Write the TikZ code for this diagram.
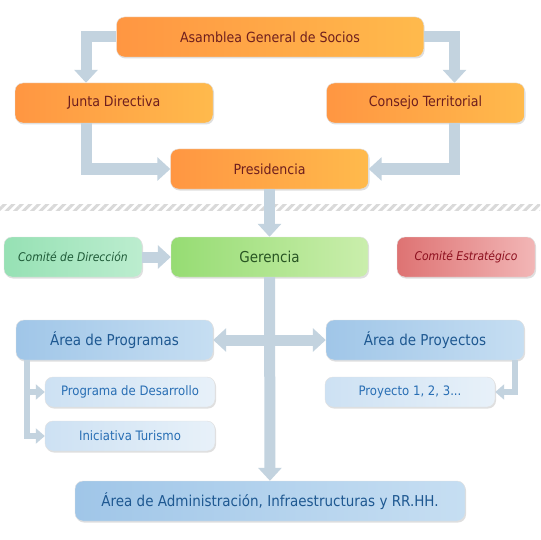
\documentclass[tikz,border=0pt]{standalone}
\usepackage{fontspec}
\setmainfont{DejaVu Sans Condensed}
\usetikzlibrary{arrows.meta, positioning, shadows, patterns.meta}
\definecolor{orgA}{RGB}{255,150,66}
\definecolor{orgB}{RGB}{255,186,76}
\definecolor{orgtxt}{RGB}{110,30,30}
\definecolor{mintA}{RGB}{150,225,180}
\definecolor{mintB}{RGB}{188,237,207}
\definecolor{minttxt}{RGB}{30,90,55}
\definecolor{grnA}{RGB}{150,220,115}
\definecolor{grnB}{RGB}{202,238,172}
\definecolor{grntxt}{RGB}{40,85,35}
\definecolor{redA}{RGB}{222,115,115}
\definecolor{redB}{RGB}{242,182,182}
\definecolor{redtxt}{RGB}{140,15,30}
\definecolor{bluA}{RGB}{160,198,232}
\definecolor{bluB}{RGB}{198,222,242}
\definecolor{blutxt}{RGB}{30,88,145}
\definecolor{lbluA}{RGB}{205,225,243}
\definecolor{lbluB}{RGB}{232,241,249}
\definecolor{lblutxt}{RGB}{40,110,180}
\definecolor{connc}{RGB}{195,211,223}

\begin{document}
\begin{tikzpicture}[
  x=1pt, y=-1pt,
  every node/.style={rounded corners=8pt, inner sep=0pt, draw=black!12,
    drop shadow={shadow xshift=1pt, shadow yshift=-1.5pt, opacity=0.25}},
  orgbox/.style={minimum width=198pt, minimum height=40pt, left color=orgA, right color=orgB,
    text=orgtxt, font=\fontsize{14}{16}\selectfont},
  mintbox/.style={minimum width=138pt, minimum height=40pt, left color=mintA, right color=mintB,
    text=minttxt, font=\fontsize{12}{14}\selectfont\itshape},
  grnbox/.style={minimum width=197pt, minimum height=40pt, left color=grnA, right color=grnB,
    text=grntxt, font=\fontsize{15}{17}\selectfont},
  redbox/.style={minimum width=138pt, minimum height=40pt, left color=redA, right color=redB,
    text=redtxt, font=\fontsize{12}{14}\selectfont\itshape},
  blubox/.style={minimum width=197pt, minimum height=40pt, left color=bluA, right color=bluB,
    text=blutxt, font=\fontsize{15}{17}\selectfont},
  lblubox/.style={minimum width=170pt, minimum height=30pt, left color=lbluA, right color=lbluB,
    text=lblutxt, font=\fontsize{13}{15}\selectfont},
  bigarr/.style={-{Triangle[length=13pt, width=23pt]}, line width=11pt, connc},
  smallarr/.style={-{Triangle[length=9pt, width=15pt]}, line width=5.5pt, connc}
]
  \fill[white] (0,0) rectangle (540,540);
  \useasboundingbox (0,0) rectangle (540,540);

  % top level
  \node[orgbox, minimum width=307pt] (asam) at (270,37) {Asamblea General de Socios};
  \node[orgbox] (junta) at (114,103) {Junta Directiva};
  \node[orgbox] (cons) at (425.5,103) {Consejo Territorial};
  \node[orgbox] (pres) at (269.5,169) {Presidencia};

  % separator
  \fill[pattern={Lines[angle=45, distance=6pt, line width=3pt]}, pattern color=black!15]
    (0,204) rectangle (540,210);

  % management
  \node[mintbox] (cdir) at (73,257) {Comité de Dirección};
  \node[grnbox] (ger) at (269.5,257) {Gerencia};
  \node[redbox] (cest) at (466,257) {Comité Estratégico};

  % areas
  \node[blubox] (aprog) at (114.5,340) {Área de Programas};
  \node[blubox, minimum width=198pt] (aproy) at (425,340) {Área de Proyectos};
  \node[lblubox] (pdes) at (130,392) {Programa de Desarrollo};
  \node[lblubox] (inic) at (130,436) {Iniciativa Turismo};
  \node[lblubox] (p123) at (410,392) {Proyecto 1, 2, 3...};
  \node[blubox, minimum width=390pt] (admin) at (270,501) {Área de Administración, Infraestructuras y RR.HH.};

  % connectors
  \draw[bigarr] (asam.west) -| ([xshift=-28pt]junta.north);
  \draw[bigarr] (asam.east) -| ([xshift=29pt]cons.north);
  \draw[bigarr] ([xshift=-28pt]junta.south) |- (pres.west);
  \draw[bigarr] ([xshift=29pt]cons.south) |- (pres.east);
  \draw[bigarr] (pres) -- (ger);
  \draw[bigarr] (cdir) -- (ger);
  \draw[bigarr] (ger) -- (admin);
  \draw[bigarr] (ger.south |- aprog.east) -- (aprog.east);
  \draw[bigarr] (ger.south |- aproy.west) -- (aproy.west);
  \draw[smallarr] ([xshift=11pt]aprog.south west) |- (pdes.west);
  \draw[smallarr] ([xshift=11pt]aprog.south west) |- (inic.west);
  \draw[smallarr] ([xshift=-9pt]aproy.south east) |- (p123.east);
\end{tikzpicture}
\end{document}
